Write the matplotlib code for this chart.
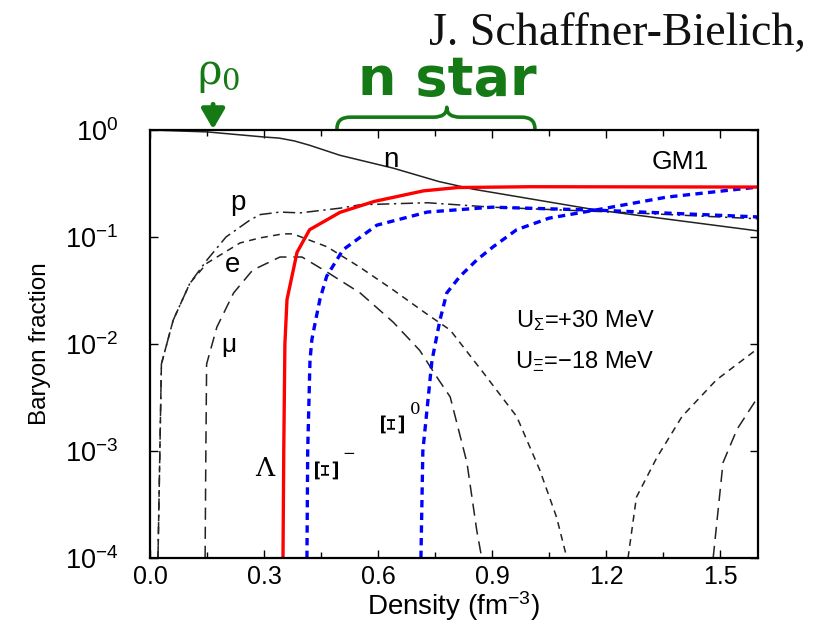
import numpy as np
import matplotlib
matplotlib.use("Agg")
import matplotlib.pyplot as plt
from matplotlib.path import Path
from matplotlib.patches import PathPatch
import matplotlib.transforms as mtransforms
from matplotlib.ticker import FixedLocator, NullLocator, FixedFormatter

plt.rcParams['font.family'] = ['Liberation Sans', 'DejaVu Sans']
plt.rcParams['mathtext.fontset'] = 'custom'
plt.rcParams['mathtext.rm'] = 'Liberation Sans'
plt.rcParams['mathtext.it'] = 'Liberation Sans:italic'

# ---------------- data (density in fm^-3, baryon fraction) ----------------
n_rho = [0.0, 0.15, 0.30, 0.34, 0.38, 0.42, 0.50, 0.64, 0.76, 0.85, 1.17, 1.60]
n_val = [1.0, 0.96, 0.86, 0.84, 0.79, 0.72, 0.58, 0.44, 0.33, 0.28, 0.18, 0.114]

p_rho = [0.021, 0.030, 0.061, 0.105, 0.150, 0.200, 0.263, 0.290, 0.342, 0.395, 0.500, 0.553, 0.730, 0.900, 1.270, 1.600]
p_val = [1e-4, 0.0065, 0.0167, 0.037, 0.061, 0.100, 0.144, 0.162, 0.171, 0.168, 0.186, 0.200, 0.209, 0.190, 0.168, 0.148]

e_rho = [0.021, 0.030, 0.061, 0.105, 0.150, 0.237, 0.289, 0.350, 0.376, 0.466, 0.553, 0.640, 0.729, 0.790, 0.877, 0.965, 1.026, 1.070, 1.097]
e_val = [1e-4, 0.0065, 0.0167, 0.037, 0.057, 0.088, 0.098, 0.107, 0.107, 0.081, 0.052, 0.032, 0.019, 0.0135, 0.0054, 0.0021, 6.6e-4, 2.4e-4, 1e-4]

mu_rho = [0.145, 0.147, 0.149, 0.176, 0.220, 0.270, 0.342, 0.400, 0.466, 0.553, 0.640, 0.710, 0.755, 0.790, 0.834, 0.860, 0.873]
mu_val = [1e-4, 1e-3, 0.0065, 0.0144, 0.030, 0.049, 0.065, 0.065, 0.047, 0.030, 0.016, 0.0087, 0.0049, 0.0032, 7.8e-4, 1.8e-4, 1e-4]

lam_rho = [0.350, 0.352, 0.355, 0.3605, 0.387, 0.420, 0.500, 0.590, 0.720, 0.810, 1.000, 1.600]
lam_val = [1e-4, 1e-3, 0.010, 0.026, 0.072, 0.117, 0.170, 0.215, 0.270, 0.290, 0.295, 0.293]

xim_rho = [0.413, 0.415, 0.421, 0.426, 0.436, 0.447, 0.465, 0.508, 0.597, 0.730, 0.900, 1.180, 1.600]
xim_val = [1e-4, 1e-3, 0.0070, 0.011, 0.0167, 0.026, 0.043, 0.076, 0.129, 0.171, 0.190, 0.178, 0.154]

xi0_rho = [0.713, 0.718, 0.742, 0.763, 0.781, 0.816, 0.860, 0.903, 0.965, 1.050, 1.170, 1.360, 1.600]
xi0_val = [1e-4, 1e-3, 0.0070, 0.0167, 0.030, 0.043, 0.061, 0.081, 0.117, 0.150, 0.178, 0.236, 0.293]

hA_rho = [1.258, 1.280, 1.334, 1.400, 1.490, 1.600]
hA_val = [1e-4, 3.7e-4, 8.7e-4, 0.0021, 0.0046, 0.0091]

hB_rho = [1.482, 1.508, 1.545, 1.600]
hB_val = [1e-4, 7.8e-4, 0.0016, 0.0032]

x_ticks = [0.0, 0.3, 0.6, 0.9, 1.2, 1.5]
x_tick_labels = ["0.0", "0.3", "0.6", "0.9", "1.2", "1.5"]
y_ticks = [1e-4, 1e-3, 1e-2, 1e-1, 1e0]
y_tick_labels = [r"$10^{-4}$", r"$10^{-3}$", r"$10^{-2}$", r"$10^{-1}$", r"$10^{0}$"]

GREEN = '#157a15'
LINE = '#222222'

# ---------------- figure ----------------
W, H = 823, 630
fig = plt.figure(figsize=(W / 100, H / 100), dpi=100)
ax = fig.add_axes([150 / W, 1 - 558 / H, (758 - 150) / W, (558 - 130) / H])
ax.set_yscale('log')
ax.set_xlim(0, 1.6)
ax.set_ylim(1e-4, 1.0)

ax.plot(n_rho, n_val, color=LINE, lw=1.1, ls='-')
ax.plot(p_rho, p_val, color=LINE, lw=1.1, ls=(0, (8, 3, 1.5, 3)))
ax.plot(e_rho, e_val, color=LINE, lw=1.1, ls=(0, (4.5, 3.5)))
ax.plot(mu_rho, mu_val, color=LINE, lw=1.1, ls=(0, (8, 4.5)))
ax.plot(hA_rho, hA_val, color=LINE, lw=1.1, ls=(0, (4.5, 3.5)))
ax.plot(hB_rho, hB_val, color=LINE, lw=1.1, ls=(0, (8, 4.5)))
ax.plot(xim_rho, xim_val, color='#0000ff', lw=2.4, ls=(0, (2.2, 1.6)))
ax.plot(xi0_rho, xi0_val, color='#0000ff', lw=2.4, ls=(0, (2.2, 1.6)))
ax.plot(lam_rho, lam_val, color='#ff0000', lw=2.4, ls='-')

# axes styling
for s in ax.spines.values():
    s.set_linewidth(1.6)
ax.xaxis.set_major_locator(FixedLocator(x_ticks))
ax.xaxis.set_major_formatter(FixedFormatter(x_tick_labels))
ax.xaxis.set_minor_locator(FixedLocator([0.15, 0.45, 0.75, 1.05, 1.35]))
ax.yaxis.set_major_locator(FixedLocator(y_ticks))
ax.yaxis.set_major_formatter(FixedFormatter(y_tick_labels))
ax.yaxis.set_minor_locator(NullLocator())
ax.tick_params(which='both', direction='in', top=True, right=True, width=1.0)
ax.tick_params(which='major', length=6)
ax.tick_params(which='minor', length=4)
ax.tick_params(axis='x', labelsize=18, pad=5)
ax.tick_params(axis='y', labelsize=19.5, pad=23)
ax.set_xlabel(r"Density (fm$^{-3}$)", fontsize=20, labelpad=0)
ax.set_ylabel("Baryon fraction", fontsize=17.5, labelpad=10)

# curve labels
ax.text(0.634, 0.525, "n", fontsize=20, ha='center', va='center')
ax.text(0.232, 0.208, "p", fontsize=20, ha='center', va='center')
ax.text(0.218, 0.055, "e", fontsize=20, ha='center', va='center')
ax.text(0.208, 0.0098, "μ", fontsize=19, ha='center', va='center')
ax.text(1.395, 0.50, "GM1", fontsize=19, ha='center', va='center')
ax.text(1.145, 0.0165, r"U$_\Sigma$=+30 MeV", fontsize=17, ha='center', va='center')
ax.text(1.145, 0.0068, r"U$_\Xi$=$-$18 MeV", fontsize=17, ha='center', va='center')
ax.text(0.303, 6.9e-4, "Λ", fontsize=19, ha='center', va='center', family='DejaVu Serif')
ax.text(0.472, 6.9e-4, "Ξ", fontsize=22, ha='center', va='center', family='DejaVu Serif', rotation=90)
ax.text(0.524, 9.4e-4, "−", fontsize=11, ha='center', va='center', family='DejaVu Serif')
ax.text(0.645, 1.87e-3, "Ξ", fontsize=22, ha='center', va='center', family='DejaVu Serif', rotation=90)
ax.text(0.697, 2.45e-3, "0", fontsize=12, ha='center', va='center', family='DejaVu Serif')

# annotations above the plot
fig.text(806 / W, 1 - 45 / H, "J. Schaffner-Bielich,", fontsize=33, family='Liberation Serif',
         ha='right', va='baseline', color='#111111')
fig.text(447 / W, 1 - 80 / H, "n star", fontsize=39, family='DejaVu Sans', weight='bold',
         color=GREEN, ha='center', va='center')
fig.text(219 / W, 1 - 74 / H, r"ρ$_0$", fontsize=30, family='DejaVu Serif', color=GREEN,
         ha='center', va='center', math_fontfamily='dejavuserif')

trans = mtransforms.blended_transform_factory(ax.transData, ax.transAxes)
ax.annotate('', xy=(0.166, 1.002), xycoords=trans, xytext=(0.166, 1.06), textcoords=trans,
            arrowprops=dict(arrowstyle='-|>,head_length=1.2,head_width=0.7', color=GREEN, lw=3.5,
                            shrinkA=0, shrinkB=0), annotation_clip=False)

# curly brace over the n star region
x0, x1, xc = 0.492, 1.013, 0.781
yb, ym, yt = 1.003, 1.030, 1.053
d = 0.035
verts = [(x0, yb), (x0, ym), (x0 + d, ym),
         (xc - d, ym), (xc, ym), (xc, yt),
         (xc, ym), (xc + d, ym),
         (x1 - d, ym), (x1, ym), (x1, yb)]
codes = [Path.MOVETO, Path.CURVE3, Path.CURVE3,
         Path.LINETO, Path.CURVE3, Path.CURVE3,
         Path.CURVE3, Path.CURVE3,
         Path.LINETO, Path.CURVE3, Path.CURVE3]
brace = PathPatch(Path(verts, codes), transform=trans, fill=False, edgecolor=GREEN, lw=2.6,
                  clip_on=False, capstyle='round', joinstyle='round')
ax.add_patch(brace)

fig.savefig("out.png", dpi=100)
